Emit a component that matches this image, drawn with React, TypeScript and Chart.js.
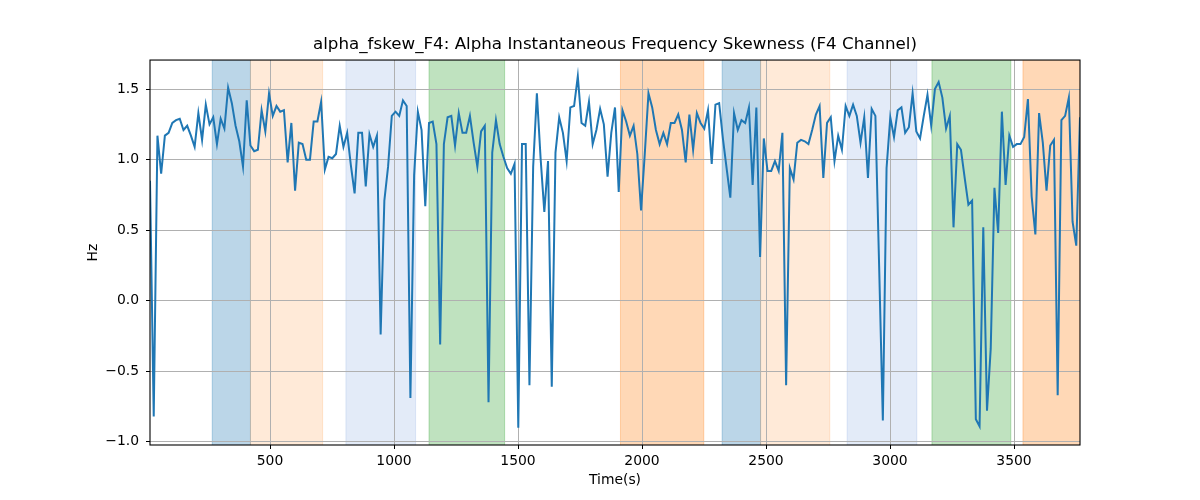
import { useEffect, useRef } from "react";
import Chart from "chart.js/auto";

const TITLE = "alpha_fskew_F4: Alpha Instantaneous Frequency Skewness (F4 Channel)";

// time axis: first sample and sampling step (s)
const T0 = 16;
const DT = 15;

// skewness values (Hz)
const skew = [
  0.85, -0.82, 1.17, 0.9, 1.17, 1.19, 1.26, 1.28, 1.29, 1.21, 1.24, 1.17, 1.09, 1.33, 1.14, 1.39,
  1.25, 1.3, 1.11, 1.29, 1.22, 1.51, 1.4, 1.24, 1.13, 0.95, 1.42, 1.1, 1.06, 1.07, 1.35, 1.2,
  1.47, 1.31, 1.38, 1.34, 1.35, 0.98, 1.26, 0.78, 1.12, 1.11, 1.0, 1.0,
  1.27, 1.27, 1.41, 0.93, 1.02, 1.01, 1.04, 1.24, 1.09, 1.19, 0.96, 0.76, 1.19, 1.19, 0.81, 1.18,
  1.09, 1.17, -0.24, 0.71, 0.95, 1.31, 1.34, 1.31, 1.42, 1.38, -0.69, 0.89, 1.34, 1.21, 0.67, 1.26,
  1.27, 1.11, -0.31, 1.11, 1.3, 1.31, 1.1, 1.33, 1.19, 1.19, 1.31,
  1.12, 0.95, 1.2, 1.24, -0.72, 1.05, 1.28, 1.11, 1.02, 0.94, 0.9, 0.97, -0.9, 1.11, 1.11, -0.6,
  0.95, 1.47, 1.01, 0.63, 0.99, -0.61, 1.05, 1.3, 1.19, 0.99, 1.37, 1.38, 1.59, 1.26, 1.24, 1.41,
  1.11, 1.21, 1.36, 1.25, 0.88, 1.19, 1.37, 0.77, 1.35, 1.27, 1.17,
  1.24, 1.04, 0.64, 1.04, 1.47, 1.37, 1.21, 1.11, 1.19, 1.11, 1.26, 1.26, 1.32, 1.21, 0.98, 1.32,
  1.07, 1.33, 1.26, 1.22, 1.35, 0.97, 1.39, 1.4, 1.15, 0.94, 0.73, 1.33, 1.21, 1.28, 1.26, 1.37,
  0.82, 1.37, 0.31, 1.15, 0.92, 0.92, 0.99, 0.92, 1.19, -0.6, 0.94,
  0.86, 1.12, 1.14, 1.13, 1.11, 1.21, 1.32, 1.38, 0.87, 1.26, 1.3, 0.99, 1.17, 1.07, 1.38, 1.31,
  1.39, 1.31, 1.12, 1.3, 0.87, 1.36, 1.31, 0.25, -0.85, 0.94, 1.3, 1.16, 1.35, 1.37, 1.19, 1.23,
  1.47, 1.2, 1.15, 1.31, 1.46, 1.24, 1.5, 1.55, 1.44, 1.22, 1.31,
  0.52, 1.11, 1.07, 0.87, 0.68, 0.71, -0.84, -0.89, 0.52, -0.78, -0.34, 0.8, 0.48, 1.34, 0.82, 1.17,
  1.09, 1.11, 1.11, 1.16, 1.43, 0.74, 0.47, 1.33, 1.12, 0.78, 1.1, 1.14, -0.67, 1.28, 1.31, 1.44,
  0.56, 0.39, 1.3,
];

// shaded intervals
const spanStart = [267, 421, 806, 1141, 1913, 2323, 2478, 2827, 3169, 3536];
const spanEnd = [421, 712, 1087, 1446, 2249, 2478, 2757, 3108, 3487, 3800];
const spanKind = ["blue", "peach", "pale", "green", "orange", "blue", "peach", "pale", "green", "orange"];

const xTicks = [500, 1000, 1500, 2000, 2500, 3000, 3500];
const yTicks = [-1, -0.5, 0, 0.5, 1, 1.5];

const SPAN_COLORS: Record<string, string> = {
  blue: "rgba(31,119,180,0.3)",
  peach: "rgba(255,127,14,0.16)",
  pale: "rgba(70,120,210,0.15)",
  green: "rgba(44,160,44,0.3)",
  orange: "rgba(255,127,14,0.3)",
};

const FONT = "'DejaVu Sans', sans-serif";

const spansPlugin = {
  id: "spans",
  beforeDraw(chart: any) {
    const { ctx, chartArea, scales } = chart;
    ctx.save();
    ctx.fillStyle = "#fff";
    ctx.fillRect(0, 0, chart.width, chart.height);
    ctx.beginPath();
    ctx.rect(chartArea.left, chartArea.top, chartArea.width, chartArea.height);
    ctx.clip();
    spanStart.forEach((s, i) => {
      const x1 = scales.x.getPixelForValue(s);
      const x2 = scales.x.getPixelForValue(spanEnd[i]);
      const c = SPAN_COLORS[spanKind[i]];
      ctx.fillStyle = c;
      ctx.fillRect(x1, chartArea.top, x2 - x1, chartArea.height);
      ctx.strokeStyle = c;
      ctx.lineWidth = 1;
      ctx.beginPath();
      ctx.moveTo(x1, chartArea.top);
      ctx.lineTo(x1, chartArea.bottom);
      ctx.moveTo(x2, chartArea.top);
      ctx.lineTo(x2, chartArea.bottom);
      ctx.stroke();
    });
    ctx.restore();
  },
  afterDraw(chart: any) {
    const { ctx, chartArea } = chart;
    ctx.save();
    ctx.strokeStyle = "#000";
    ctx.lineWidth = 1.1;
    ctx.strokeRect(chartArea.left, chartArea.top, chartArea.width, chartArea.height);
    ctx.restore();
  },
};

export default function App() {
  const chartRef = useRef<HTMLCanvasElement>(null);
  const chartInstance = useRef<Chart | null>(null);

  useEffect(() => {
    const ctx = chartRef.current?.getContext("2d");
    if (!ctx) return;
    if (chartInstance.current) chartInstance.current.destroy();

    const points = skew.map((v, i) => ({ x: T0 + i * DT, y: v }));

    chartInstance.current = new Chart(ctx, {
      type: "line",
      data: {
        datasets: [
          {
            data: points,
            borderColor: "#1f77b4",
            borderWidth: 2,
            pointRadius: 0,
            tension: 0,
            fill: false,
          },
        ],
      },
      options: {
        responsive: false,
        animation: false,
        devicePixelRatio: 1,
        layout: { padding: { left: 0, right: 120, top: 0, bottom: 0 } },
        plugins: {
          legend: { display: false },
          tooltip: { enabled: false },
          title: {
            display: true,
            text: TITLE,
            color: "#000",
            fullSize: false,
            font: { family: FONT, size: 16.7, weight: "normal" },
            padding: { top: 35, bottom: 5 },
          },
        },
        scales: {
          x: {
            type: "linear",
            min: T0,
            max: T0 + (skew.length - 1) * DT,
            afterBuildTicks: (s: any) => {
              s.ticks = xTicks.map((v) => ({ value: v }));
            },
            afterFit: (s: any) => {
              s.height = 55;
            },
            grid: { color: "#b0b0b0", lineWidth: 1, tickColor: "#000", tickLength: 4 },
            border: { display: false },
            ticks: {
              color: "#000",
              font: { family: FONT, size: 13.9 },
              padding: 4,
              maxRotation: 0,
              callback: (v: any) => String(v),
            },
            title: {
              display: true,
              text: "Time(s)",
              color: "#000",
              font: { family: FONT, size: 13.9 },
              padding: { top: 0, bottom: 11 },
            },
          },
          y: {
            type: "linear",
            min: -1.023,
            max: 1.706,
            afterBuildTicks: (s: any) => {
              s.ticks = yTicks.map((v) => ({ value: v }));
            },
            afterFit: (s: any) => {
              s.width = 150;
            },
            grid: { color: "#b0b0b0", lineWidth: 1, tickColor: "#000", tickLength: 4 },
            border: { display: false },
            ticks: {
              color: "#000",
              font: { family: FONT, size: 13.9 },
              padding: 7,
              callback: (v: any) => Number(v).toFixed(1).replace("-", "\u2212"),
            },
            title: {
              display: true,
              text: "Hz",
              color: "#000",
              font: { family: FONT, size: 13.9 },
              padding: { top: 85, bottom: 0 },
            },
          },
        },
      },
      plugins: [spansPlugin],
    });

    return () => {
      chartInstance.current?.destroy();
      chartInstance.current = null;
    };
  }, []);

  return (
    <div style={{ position: "fixed", left: 0, top: 0, width: 1200, height: 500, background: "#fff" }}>
      <canvas ref={chartRef} width={1200} height={500} />
    </div>
  );
}
